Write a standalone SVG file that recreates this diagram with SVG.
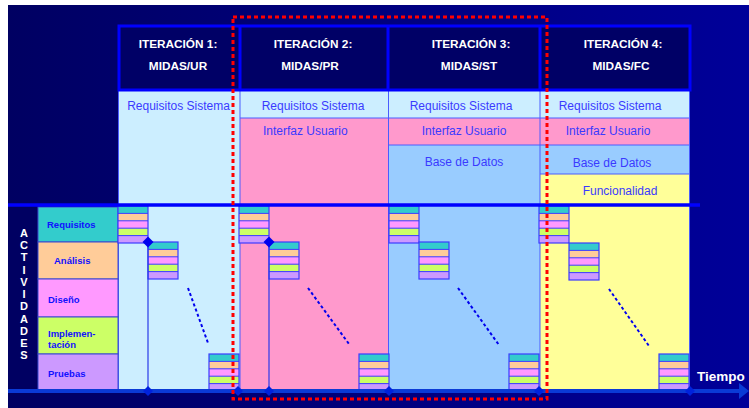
<svg xmlns="http://www.w3.org/2000/svg" width="749" height="408" viewBox="0 0 749 408">
<defs>
  <linearGradient id="bgGrad" x1="0" y1="0" x2="1" y2="0">
    <stop offset="0" stop-color="#000062"/>
    <stop offset="1" stop-color="#000099"/>
  </linearGradient>
  <g id="blk">
    <rect x="0" y="0" width="30" height="7.4" fill="#33cccc"/>
    <rect x="0" y="7.4" width="30" height="7.4" fill="#ffcc99"/>
    <rect x="0" y="14.8" width="30" height="7.4" fill="#ff99ff"/>
    <rect x="0" y="22.2" width="30" height="7.4" fill="#ccff66"/>
    <rect x="0" y="29.6" width="30" height="7.4" fill="#cc99ff"/>
    <path d="M0,7.4H30M0,14.8H30M0,22.2H30M0,29.6H30" stroke="#3b3bff" stroke-width="1" fill="none"/>
    <rect x="0" y="0" width="30" height="37" fill="none" stroke="#3b3bff" stroke-width="1.2"/>
  </g>
  <path id="dia" d="M0,-5.5L5.5,0L0,5.5L-5.5,0Z" fill="#0000ee"/>
  <path id="diaS" d="M0,-5L5,0L0,5L-5,0Z" fill="#0022dd"/>
</defs>
<style>
  .hdr { font-family: "Liberation Sans", Arial, sans-serif; font-weight: bold; font-size: 11.8px; fill: #ffffff; text-anchor: middle; }
  .lbl { font-family: "Liberation Sans", Arial, sans-serif; font-size: 12px; fill: #3a3aff; text-anchor: middle; }
  .act { font-family: "Liberation Sans", Arial, sans-serif; font-weight: bold; font-size: 9.5px; fill: #1010ff; }
  .vert { font-family: "Liberation Sans", Arial, sans-serif; font-weight: bold; font-size: 11px; fill: #ffffff; text-anchor: middle; }
  .sep { stroke: #4a5cff; stroke-width: 1; fill: none; }
  .diag { stroke: #0000ee; stroke-width: 2; stroke-dasharray: 3 2.5; fill: none; }
</style>

<g id="background">
  <rect x="0" y="0" width="749" height="408" fill="#ffffff"/>
  <rect x="8" y="5" width="741" height="403" fill="url(#bgGrad)"/>
</g>

<g id="headers">
  <rect x="119" y="26" width="571" height="64" fill="#000066"/>
</g>

<g id="iter1">
  <rect x="118" y="91" width="122" height="299" fill="#cceeff"/>
  <text class="hdr" x="178" y="48">ITERACIÓN 1:</text>
  <text class="hdr" x="178" y="70">MIDAS/UR</text>
  <text class="lbl" x="178.5" y="110">Requisitos Sistema</text>
</g>

<g id="iter2">
  <rect x="240" y="91" width="148" height="299" fill="#ff99cc"/>
  <rect x="240" y="91" width="148" height="27" fill="#cceeff"/>
  <path class="sep" d="M240,118H388"/>
  <text class="hdr" x="313" y="48">ITERACIÓN 2:</text>
  <text class="hdr" x="310" y="70">MIDAS/PR</text>
  <text class="lbl" x="313" y="110">Requisitos Sistema</text>
  <text class="lbl" x="263" y="135" style="text-anchor:start">Interfaz Usuario</text>
</g>

<g id="iter3">
  <rect x="388" y="91" width="152" height="299" fill="#99ccff"/>
  <rect x="388" y="91" width="152" height="27" fill="#cceeff"/>
  <rect x="388" y="118" width="152" height="27" fill="#ff99cc"/>
  <path class="sep" d="M388,118H540M388,145H540"/>
  <text class="hdr" x="471" y="48">ITERACIÓN 3:</text>
  <text class="hdr" x="469" y="70">MIDAS/ST</text>
  <text class="lbl" x="461" y="110">Requisitos Sistema</text>
  <text class="lbl" x="464" y="135">Interfaz Usuario</text>
  <text class="lbl" x="464" y="166">Base de Datos</text>
</g>

<g id="iter4">
  <rect x="540" y="91" width="150" height="299" fill="#ffff99"/>
  <rect x="540" y="91" width="150" height="27" fill="#cceeff"/>
  <rect x="540" y="118" width="150" height="27" fill="#ff99cc"/>
  <rect x="540" y="145" width="150" height="29" fill="#99ccff"/>
  <path class="sep" d="M540,118H690M540,145H690M540,174H690"/>
  <text class="hdr" x="623" y="48">ITERACIÓN 4:</text>
  <text class="hdr" x="621" y="70">MIDAS/FC</text>
  <text class="lbl" x="610" y="110">Requisitos Sistema</text>
  <text class="lbl" x="608" y="135">Interfaz Usuario</text>
  <text class="lbl" x="612" y="167">Base de Datos</text>
  <text class="lbl" x="620" y="195">Funcionalidad</text>
</g>

<g id="column-borders">
  <path class="sep" d="M118.5,91V390M240,91V390M388.5,91V390M540,91V390M689.5,91V390"/>
  <rect x="119" y="26" width="571" height="64" fill="none" stroke="#0000ff" stroke-width="3"/>
  <path d="M240,26V90M388,26V90M540,26V90" stroke="#0000ff" stroke-width="3"/>
</g>

<g id="actividades">
  <rect x="8" y="206" width="30" height="184" fill="#000062"/>
  <text class="vert" x="24" y="237">A</text>
  <text class="vert" x="24" y="249">C</text>
  <text class="vert" x="24" y="261">T</text>
  <text class="vert" x="24" y="274">I</text>
  <text class="vert" x="24" y="286">V</text>
  <text class="vert" x="24" y="298">I</text>
  <text class="vert" x="24" y="310">D</text>
  <text class="vert" x="24" y="323">A</text>
  <text class="vert" x="24" y="335">D</text>
  <text class="vert" x="24" y="347">E</text>
  <text class="vert" x="24" y="359">S</text>
</g>

<g id="act-requisitos">
  <rect x="38" y="207" width="80" height="35" fill="#33cccc" stroke="#3a4ad0" stroke-width="1"/>
  <text class="act" x="47" y="228">Requisitos</text>
</g>
<g id="act-analisis">
  <rect x="38" y="242" width="80" height="37" fill="#ffcc99" stroke="#3a4ad0" stroke-width="1"/>
  <text class="act" x="54" y="264">Análisis</text>
</g>
<g id="act-diseno">
  <rect x="38" y="279" width="80" height="38" fill="#ff99ff" stroke="#3a4ad0" stroke-width="1"/>
  <text class="act" x="48" y="303">Diseño</text>
</g>
<g id="act-implementacion">
  <rect x="38" y="317" width="80" height="37" fill="#ccff66" stroke="#3a4ad0" stroke-width="1"/>
  <text class="act" x="48" y="337">Implemen-</text>
  <text class="act" x="48" y="348">tación</text>
</g>
<g id="act-pruebas">
  <rect x="38" y="354" width="80" height="36" fill="#cc99ff" stroke="#3a4ad0" stroke-width="1"/>
  <text class="act" x="48" y="377">Pruebas</text>
</g>

<g id="blocks">
  <use href="#blk" x="118" y="206"/>
  <use href="#blk" x="148" y="242"/>
  <use href="#blk" x="209" y="354"/>
  <use href="#blk" x="239" y="206"/>
  <use href="#blk" x="269" y="242"/>
  <use href="#blk" x="359" y="354"/>
  <use href="#blk" x="389" y="206"/>
  <use href="#blk" x="419" y="242"/>
  <use href="#blk" x="509" y="354"/>
  <use href="#blk" x="539" y="206"/>
  <use href="#blk" x="569" y="243"/>
  <use href="#blk" x="659" y="354"/>
</g>

<g id="connectors">
  <path class="diag" d="M188,288L208,343"/>
  <path class="diag" d="M308,288L349,344"/>
  <path class="diag" d="M458,288L499,345"/>
  <path class="diag" d="M609,289L649,346"/>
  <path d="M148,242V391M269,242V391" stroke="#2b3be8" stroke-width="1.2" fill="none"/>
  <path d="M8,205H700" stroke="#0000ff" stroke-width="3.5"/>
  <path d="M8,391H740" stroke="#0a3ad6" stroke-width="4"/>
  <path d="M739,383L749,391L739,399Z" fill="#0a3ad6"/>
  <use href="#dia" x="148" y="242"/>
  <use href="#dia" x="269" y="242"/>
  <use href="#diaS" x="148" y="391"/>
  <use href="#diaS" x="238" y="391"/>
  <use href="#diaS" x="269" y="391"/>
  <use href="#diaS" x="389" y="391"/>
  <use href="#diaS" x="539" y="391"/>
  <use href="#diaS" x="690" y="391"/>
</g>

<g id="tiempo">
  <text x="697" y="381" style="font-family:'Liberation Sans',Arial,sans-serif;font-weight:bold;font-size:13.5px;fill:#ffffff">Tiempo</text>
</g>

<g id="highlight">
  <rect x="233" y="17" width="314" height="382" fill="none" stroke="#ff0000" stroke-width="3" stroke-dasharray="4 3"/>
</g>
</svg>
